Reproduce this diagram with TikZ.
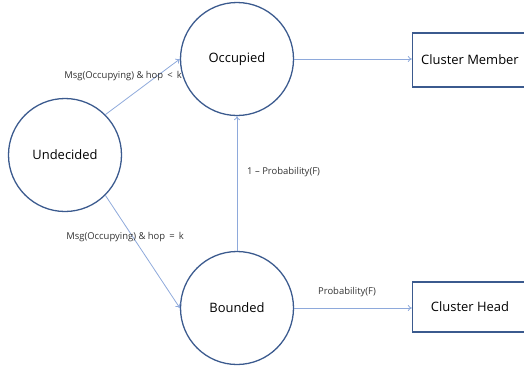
\documentclass[tikz,border=0pt]{standalone}
\usepackage{fontspec}
\setmainfont{Open Sans}
\usetikzlibrary{arrows.meta}
\definecolor{circ}{HTML}{3B5A8E}
\definecolor{arr}{HTML}{8EA9DB}
\begin{document}
\begin{tikzpicture}[x=1bp,y=-1bp,
  state/.style={circle,draw=circ,line width=1.3pt,minimum size=113bp,inner sep=0pt,font=\fontsize{13}{15}\selectfont},
  outbox/.style={rectangle,draw=circ,line width=1.3pt,minimum width=115bp,inner sep=0pt,font=\fontsize{13}{15}\selectfont},
  conn/.style={draw=arr,line width=0.8pt,-{To[length=4bp,width=6bp]}},
  lbl/.style={font=\fontsize{9.5}{11}\selectfont,text=black!80,inner sep=1pt}]
\useasboundingbox (0,0) rectangle (524,369);
\clip (0,0) rectangle (524,369);
\node[state] (occ) at (237,59) {Occupied};
\node[state] (und) at (65,155) {Undecided};
\node[state] (bnd) at (237,308) {Bounded};
\node[outbox,minimum height=54bp] (cm) at (470,60) {Cluster Member};
\node[outbox,minimum height=50bp] (ch) at (470,307) {Cluster Head};
\draw[conn] (occ.east) -- (occ.east -| cm.west);
\draw[conn] (bnd.east) -- (bnd.east -| ch.west);
\draw[conn] (bnd.north) -- (occ.south);
\draw[conn] (und.45) -- (occ.west);
\draw[conn] (und.-45) -- (bnd.west);
\node[lbl] (l1) at (123,76) {Msg(Occupying) \& hop \,<\, k};
\node[lbl] (l2) at (125,237) {Msg(Occupying) \& hop \,=\, k};
\node[lbl,anchor=west] (l3) at (246,172) {1 -- Probability(F)};
\node[lbl] (l4) at (347,292) {Probability(F)};
\end{tikzpicture}
\end{document}
